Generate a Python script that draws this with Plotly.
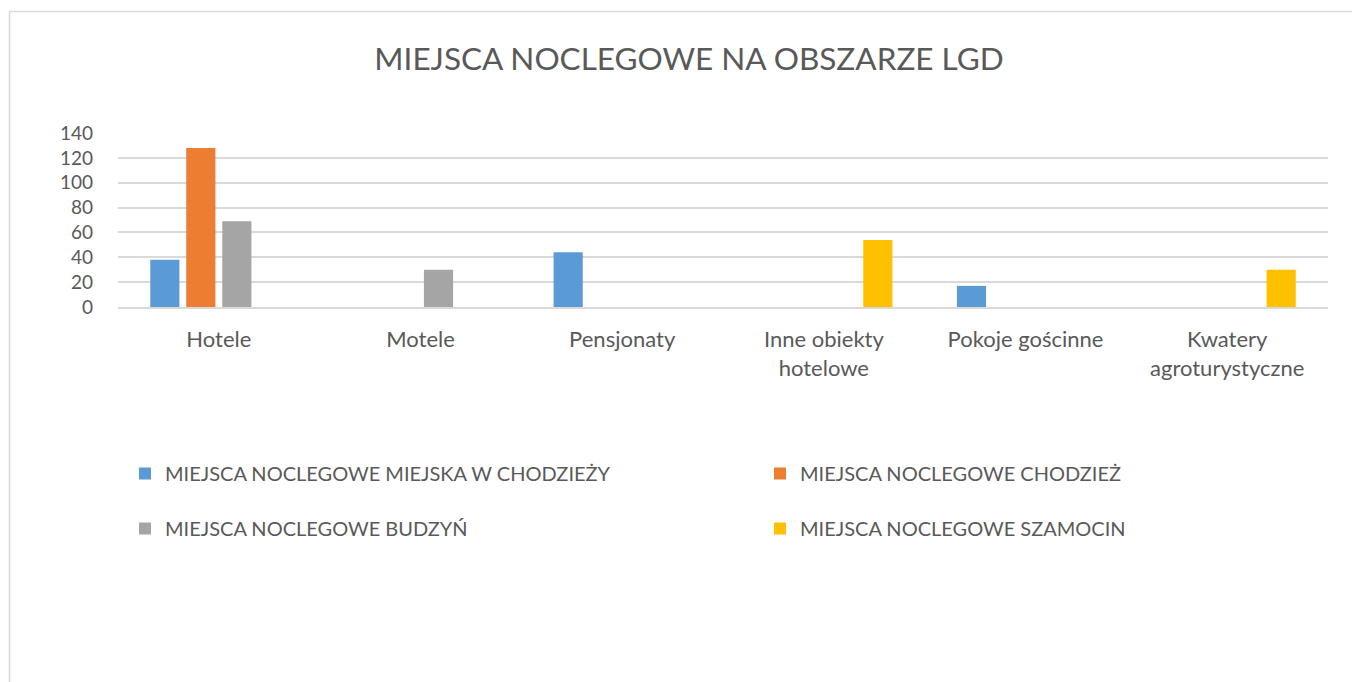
import plotly.graph_objects as go

categories = [
    "Hotele",
    "Motele",
    "Pensjonaty",
    "Inne obiekty<br>hotelowe",
    "Pokoje gościnne",
    "Kwatery<br>agroturystyczne",
]

series_names = [
    "MIEJSCA NOCLEGOWE MIEJSKA W CHODZIEŻY",
    "MIEJSCA NOCLEGOWE CHODZIEŻ",
    "MIEJSCA NOCLEGOWE BUDZYŃ",
    "MIEJSCA NOCLEGOWE SZAMOCIN",
]

miejska_chodziez = [38, None, 44, None, 17, None]
chodziez = [128, None, None, None, None, None]
budzyn = [69, 30, None, None, None, None]
szamocin = [None, None, None, 54, None, 30]

colors = ["#5B9BD5", "#ED7D31", "#A5A5A5", "#FFC000"]
y_ticks = [0, 20, 40, 60, 80, 100, 120, 140]

text_color = "#595959"
grid_color = "#D9D9D9"

# page body adds 8px, so the figure is a bit smaller than the window
W, H = 1352, 674
L, R, T, B = 110, 32, 125, 375

fig = go.Figure()

series = [miejska_chodziez, chodziez, budzyn, szamocin]
legends = ["legend", "legend2", "legend", "legend2"]
for i, (name, values) in enumerate(zip(series_names, series)):
    fig.add_trace(
        go.Bar(
            x=categories,
            y=values,
            name=name,
            marker=dict(color=colors[i], line=dict(width=0)),
            legend=legends[i],
            legendgroup=f"g{i}",
        )
    )

legend_style = dict(
    orientation="v",
    font=dict(family="Lato", size=20, color=text_color),
    bgcolor="rgba(0,0,0,0)",
    tracegroupgap=26,
    itemwidth=30,
    xanchor="left",
    yanchor="top",
    xref="container",
    yref="container",
)

fig.update_layout(
    width=W,
    height=H,
    margin=dict(l=L, r=R, t=T, b=B, autoexpand=False),
    plot_bgcolor="white",
    paper_bgcolor="white",
    font=dict(family="Lato", color=text_color),
    barmode="group",
    bargap=0.286,
    bargroupgap=0.19,
    title=dict(
        text="MIEJSCA NOCLEGOWE NA OBSZARZE LGD",
        font=dict(family="Lato", size=31.5, color=text_color),
        x=681 / W,
        xref="container",
        xanchor="center",
        y=1 - 51 / H,
        yref="container",
        yanchor="middle",
    ),
    legend=dict(legend_style, x=117 / W, y=1 - 446 / H),
    legend2=dict(legend_style, x=752 / W, y=1 - 446 / H),
)

fig.update_xaxes(
    showgrid=False,
    showline=True,
    linecolor=grid_color,
    linewidth=1.5,
    ticks="",
    tickangle=0,
    automargin=False,
    ticklabelstandoff=12,
    tickfont=dict(family="Lato", size=22, color=text_color),
)
fig.update_yaxes(
    range=[0, 140],
    tickvals=y_ticks,
    showgrid=True,
    gridcolor=grid_color,
    gridwidth=1.5,
    zeroline=False,
    showline=False,
    ticks="",
    automargin=False,
    ticklabelstandoff=24,
    tickfont=dict(family="Lato", size=19, color=text_color),
)

# chart frame
plot_w = W - L - R
plot_h = H - T - B
fig.add_shape(
    type="rect",
    xref="paper",
    yref="paper",
    x0=(1.5 - L) / plot_w,
    x1=(W + 20 - L) / plot_w,
    y0=(T + plot_h - H - 20) / plot_h,
    y1=(T + plot_h - 3.5) / plot_h,
    line=dict(color=grid_color, width=1.5),
    fillcolor="rgba(0,0,0,0)",
    layer="below",
)

fig.write_html("out.html")
